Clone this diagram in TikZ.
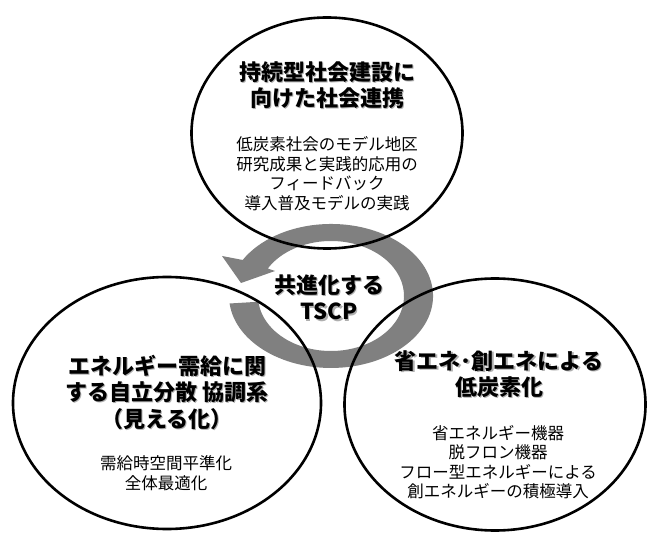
\documentclass[tikz,border=0pt]{standalone}
\usepackage{fontspec}
\newfontfamily\jp{Noto Sans CJK JP}
\usetikzlibrary{shapes.geometric}
\definecolor{ringgray}{RGB}{128,128,128}
\definecolor{shadowgray}{RGB}{175,175,175}
\tikzset{
  bubble/.style={draw=black, line width=2.6pt, ellipse, inner sep=0pt},
  titletext/.style={align=center, font=\jp\bfseries\fontsize{22}{26.5}\selectfont, inner sep=0pt},
  titleshadow/.style={titletext, text=shadowgray},
  bodytext/.style={align=center, font=\jp\fontsize{16.5}{19.5}\selectfont, inner sep=0pt},
}
\begin{document}
\begin{tikzpicture}[x=1pt,y=1pt]
\useasboundingbox[fill=white] (0,0) rectangle (648,-534);

% circular arrow (ring)
\coordinate (ringc) at (331,-296);
\coordinate (headw1) at (222,-256);
\coordinate (headtip) at (241,-283);
\coordinate (headw2) at (275,-271);
\fill[ringgray] (229.6,-303.5)
  arc[start angle=186, end angle=510, x radius=102pt, y radius=72pt]
  -- (headw1) -- (headtip) -- (headw2)
  -- (267.8,-268.5)
  arc[start angle=510, end angle=186, x radius=73pt, y radius=55pt]
  -- cycle;

% bubbles
\node[bubble, minimum width=271pt, minimum height=231pt] (topbub) at (327,-133) {};
\node[bubble, minimum width=308pt, minimum height=252pt] (leftbub) at (167,-403) {};
\node[bubble, minimum width=301pt, minimum height=252pt] (rightbub) at (495,-404.5) {};

% top bubble texts
\node[titleshadow] (toptitles) at (328.2,-86.2) {持続型社会建設に\\向けた社会連携};
\node[titletext] (toptitle) at (327,-85) {持続型社会建設に\\向けた社会連携};
\node[bodytext] (topbody) at (327,-173.5) {低炭素社会のモデル地区\\研究成果と実践的応用の\\フィードバック\\導入普及モデルの実践};

% left bubble texts
\node[titleshadow] (lefttitles) at (168.2,-393.2) {エネルギー需給に関\\する自立分散 協調系\\（見える化）};
\node[titletext] (lefttitle) at (167,-392) {エネルギー需給に関\\する自立分散 協調系\\（見える化）};
\node[bodytext] (leftbody) at (166,-473) {需給時空間平準化\\全体最適化};

% right bubble texts
\node[titleshadow] (righttitles) at (500.2,-375.2) {省エネ･創エネによる\\低炭素化};
\node[titletext] (righttitle) at (499,-374) {省エネ･創エネによる\\低炭素化};
\node[bodytext] (rightbody) at (498,-462) {省エネルギー機器\\脱フロン機器\\フロー型エネルギーによる\\創エネルギーの積極導入};

% centre text
\node[titleshadow] (centers) at (330.2,-298.7) {共進化する\\TSCP};
\node[titletext] (center) at (329,-297.5) {共進化する\\TSCP};
\end{tikzpicture}
\end{document}
